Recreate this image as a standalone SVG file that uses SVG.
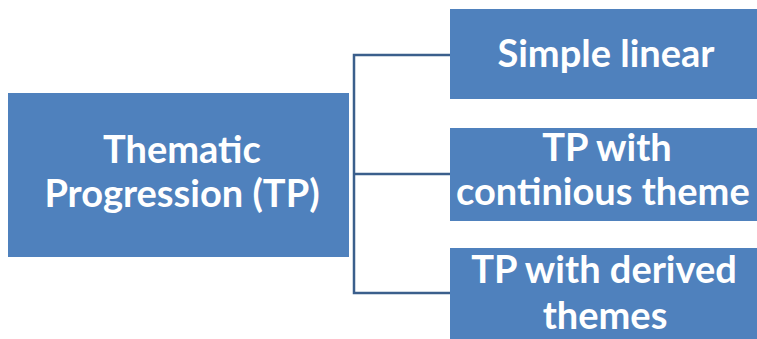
<svg xmlns="http://www.w3.org/2000/svg" width="757" height="339" viewBox="0 0 757 339">
<style>
.box{fill:#4F81BD;}
.t{fill:#ffffff;font-family:Lato,"Open Sans","Liberation Sans",sans-serif;font-weight:bold;font-size:38px;text-anchor:middle;}
.c{fill:none;stroke:#3B5F8C;stroke-width:2.5;}
</style>
<rect width="757" height="339" fill="#ffffff"/>
<g id="connectors">
<path class="c" d="M450,55 H354 V293 H450 M354,174 H450"/>
</g>
<g id="node-tp">
<rect class="box" x="8" y="93" width="341" height="164"/>
<text class="t" x="182" y="163">Thematic</text>
<text class="t" x="182" y="207">Progression (TP)</text>
</g>
<g id="node-simple">
<rect class="box" x="450" y="9" width="312" height="90"/>
<text class="t" x="606" y="67">Simple linear</text>
</g>
<g id="node-continuous">
<rect class="box" x="450" y="128" width="312" height="93"/>
<text class="t" x="607" y="161">TP with</text>
<text class="t" x="456" y="205" style="text-anchor:start">continious theme</text>
</g>
<g id="node-derived">
<rect class="box" x="450" y="248" width="312" height="95"/>
<text class="t" x="604" y="283">TP with derived</text>
<text class="t" x="605" y="329">themes</text>
</g>
</svg>
